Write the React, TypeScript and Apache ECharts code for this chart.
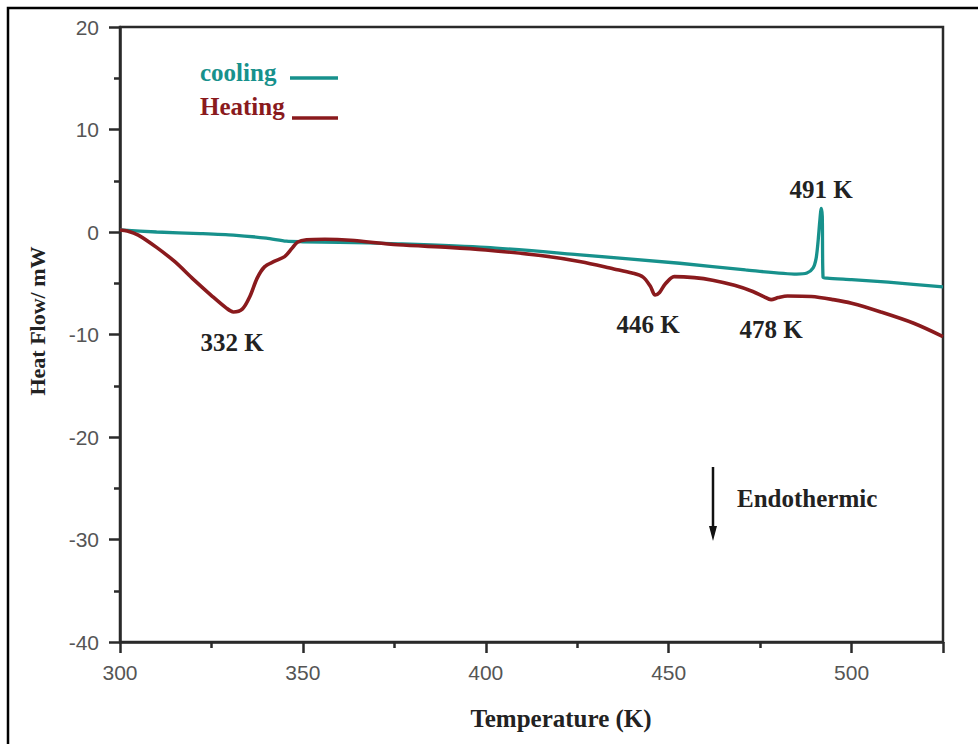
import React, { useEffect, useRef } from "react";
import * as echarts from "echarts";

const coolingT = [300, 310, 322, 331, 340, 345.5, 350, 360, 376, 400, 425, 453, 471, 485, 487.8, 489.5, 490.3, 490.8, 491.3, 491.7, 492.0, 492.2, 493.3, 500, 510, 525];
const coolingHF = [0.2, 0.0, -0.15, -0.3, -0.6, -0.9, -0.95, -1.0, -1.15, -1.5, -2.2, -3.05, -3.7, -4.1, -4.0, -3.5, -2.6, -1.1, 1.0, 2.3, 1.5, -4.4, -4.5, -4.65, -4.9, -5.35];

const heatingT = [300, 302, 305, 310, 315, 320, 325, 329, 331, 333.5, 335.5, 337.5, 339.5, 342, 345, 347, 348.5, 351, 356, 363, 376, 390, 400, 415, 426, 435, 440, 443, 445, 446.3, 447.5, 449, 451.5, 457, 462, 468, 473, 476, 478, 480, 482.5, 489, 495, 500, 508, 517, 525];
const heatingHF = [0.2, 0.1, -0.3, -1.5, -2.9, -4.6, -6.2, -7.4, -7.8, -7.5, -6.3, -4.5, -3.4, -2.9, -2.4, -1.6, -1.0, -0.75, -0.7, -0.8, -1.25, -1.5, -1.75, -2.3, -2.9, -3.6, -4.0, -4.4, -5.3, -6.15, -5.9, -5.1, -4.35, -4.45, -4.7, -5.2, -5.8, -6.3, -6.6, -6.4, -6.25, -6.3, -6.6, -6.95, -7.8, -8.9, -10.2];

const xTicks = [300, 350, 400, 450, 500];
const yTicks = [-40, -30, -20, -10, 0, 10, 20];

const peakLabels = ["332 K", "446 K", "478 K", "491 K"];
const seriesNames = ["cooling", "Heating"];
const axisNames = ["Temperature (K)", "Heat Flow/ mW"];

const TEAL = "#17918c";
const RED = "#8a1a1d";
const AXIS = "#2a2a2a";
const SERIF = "'Liberation Serif', 'Times New Roman', serif";
const SANS = "'Liberation Sans', Arial, sans-serif";

export default function App() {
  const ref = useRef<HTMLDivElement>(null);
  useEffect(() => {
    if (!ref.current) return;
    const chart = echarts.init(ref.current, undefined, { renderer: "svg" });
    const cooling = coolingT.map((t, i) => [t, coolingHF[i]]);
    const heating = heatingT.map((t, i) => [t, heatingHF[i]]);
    const boldText = (
      text: string,
      x: number,
      y: number,
      size: number,
      color = "#222",
      align = "center",
      rotation = 0
    ) => ({
      type: "text",
      x,
      y,
      rotation,
      style: {
        text,
        fill: color,
        font: `bold ${size}px ${SERIF}`,
        textAlign: align,
        textVerticalAlign: "middle",
      },
      z: 10,
    });
    chart.setOption({
      animation: false,
      backgroundColor: "#ffffff",
      grid: {
        left: 120,
        top: 27,
        width: 823,
        height: 615,
        show: true,
        borderColor: AXIS,
        borderWidth: 2.5,
        backgroundColor: "transparent",
      },
      xAxis: {
        type: "value",
        min: 300,
        max: 525,
        interval: 50,
        axisLine: { show: true, onZero: false, lineStyle: { color: AXIS, width: 2.5 } },
        axisTick: { show: true, inside: false, length: 11, lineStyle: { color: AXIS, width: 2.5 } },
        minorTick: { show: true, splitNumber: 2, length: 6, lineStyle: { color: AXIS, width: 2.5 } },
        axisLabel: {
          show: true,
          margin: 20,
          fontFamily: SANS,
          fontSize: 21,
          color: "#555",
          showMaxLabel: false,
          formatter: (v: number) => (xTicks.includes(v) ? String(v) : ""),
        },
        splitLine: { show: false },
      },
      yAxis: {
        type: "value",
        min: -40,
        max: 20,
        interval: 10,
        axisLine: { show: true, onZero: false, lineStyle: { color: AXIS, width: 2.5 } },
        axisTick: { show: true, inside: false, length: 11, lineStyle: { color: AXIS, width: 2.5 } },
        minorTick: { show: true, splitNumber: 2, length: 6, lineStyle: { color: AXIS, width: 2.5 } },
        axisLabel: {
          show: true,
          margin: 21,
          fontFamily: SANS,
          fontSize: 21,
          color: "#555",
          formatter: (v: number) => (yTicks.includes(v) ? String(v) : ""),
        },
        splitLine: { show: false },
      },
      series: [
        {
          name: seriesNames[0],
          type: "line",
          data: cooling,
          showSymbol: false,
          smooth: 0.25,
          lineStyle: { color: TEAL, width: 3.3 },
          z: 3,
        },
        {
          name: seriesNames[1],
          type: "line",
          data: heating,
          showSymbol: false,
          smooth: 0.3,
          lineStyle: { color: RED, width: 3.6 },
          z: 4,
        },
      ],
      graphic: [
        {
          type: "rect",
          shape: { x: 8, y: 8, width: 1400, height: 1400 },
          style: { fill: "none", stroke: "#000", lineWidth: 2.5 },
          silent: true,
        },
        boldText(seriesNames[0], 200, 72, 25, TEAL, "left"),
        {
          type: "line",
          shape: { x1: 290, y1: 78, x2: 338, y2: 78 },
          style: { stroke: TEAL, lineWidth: 3.5 },
        },
        boldText(seriesNames[1], 200, 106, 25, RED, "left"),
        {
          type: "line",
          shape: { x1: 292, y1: 118, x2: 338, y2: 118 },
          style: { stroke: RED, lineWidth: 3.5 },
        },
        boldText(peakLabels[0], 232, 342, 25),
        boldText(peakLabels[1], 648, 324, 25),
        boldText(peakLabels[2], 771, 329, 25),
        boldText(peakLabels[3], 821, 189, 25),
        boldText("Endothermic", 737, 498, 25, "#222", "left"),
        boldText(axisNames[0], 561, 718, 25),
        boldText(axisNames[1], 37, 321, 22, "#222", "center", Math.PI / 2),
        {
          type: "line",
          shape: { x1: 713, y1: 467, x2: 713, y2: 530 },
          style: { stroke: "#111", lineWidth: 2.5 },
        },
        {
          type: "polygon",
          shape: { points: [[709, 526], [717, 526], [713, 541]] },
          style: { fill: "#111" },
        },
      ],
    });
    return () => chart.dispose();
  }, []);
  return (
    <div
      ref={ref}
      style={{ position: "absolute", left: 0, top: 0, width: 978, height: 744, background: "#fff" }}
    />
  );
}
